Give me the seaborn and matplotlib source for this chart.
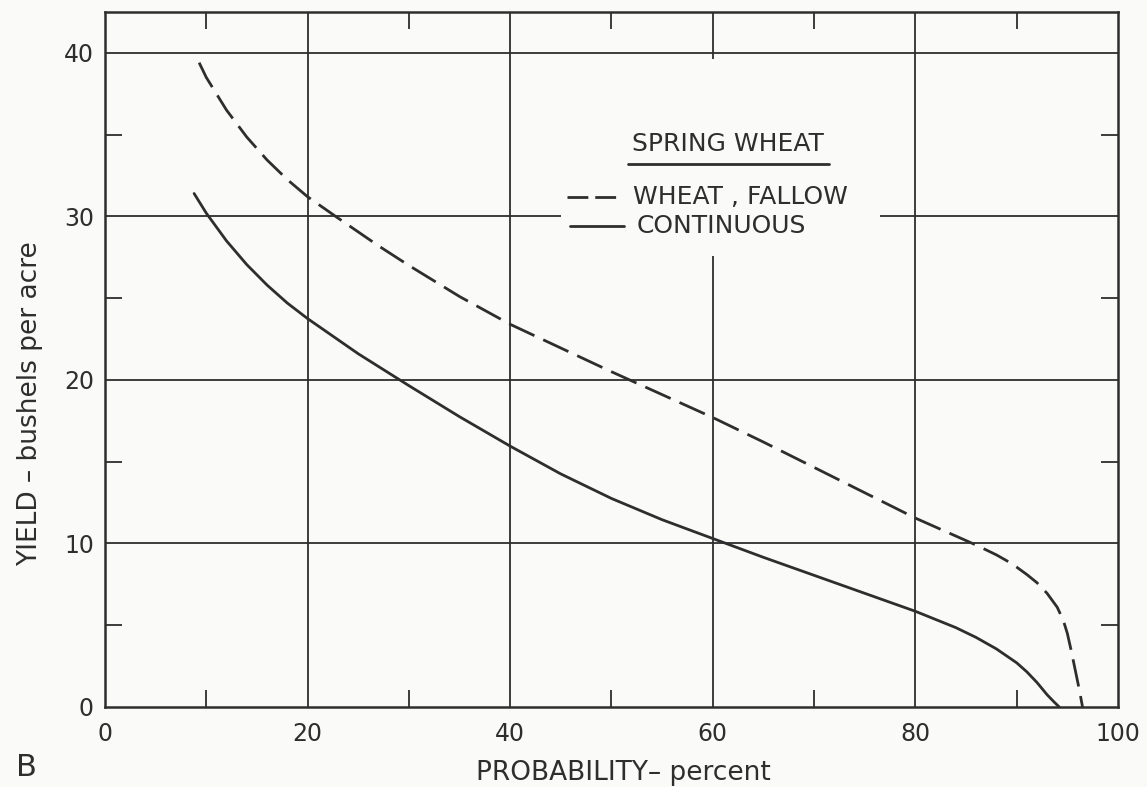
import matplotlib
matplotlib.use("Agg")
import matplotlib.pyplot as plt
import seaborn as sns
import pandas as pd
from matplotlib.patches import Rectangle

# ---- data ----
fallow_x = [9.3, 10, 12, 14, 16, 18, 20, 23, 27, 30, 35, 40, 45, 50, 55, 60, 65,
            70, 75, 80, 84, 86, 88, 89, 90, 91, 92, 93, 94, 94.6, 95, 95.4, 95.8,
            96.2, 96.5]
fallow_y = [39.4, 38.5, 36.5, 34.85, 33.45, 32.25, 31.2, 29.9, 28.2, 27.0, 25.1,
            23.4, 21.95, 20.5, 19.1, 17.7, 16.2, 14.65, 13.1, 11.55, 10.45, 9.9,
            9.3, 8.95, 8.55, 8.1, 7.6, 6.95, 6.1, 5.3, 4.5, 3.4, 2.2, 1.0, 0.0]
cont_x = [8.8, 10, 12, 14, 16, 18, 20, 25, 30, 35, 40, 45, 50, 55, 60, 65, 70, 75,
          80, 84, 86, 88, 90, 91, 92, 93, 93.7, 94.2]
cont_y = [31.4, 30.2, 28.5, 27.05, 25.8, 24.7, 23.75, 21.6, 19.65, 17.75, 15.95,
          14.25, 12.75, 11.45, 10.3, 9.15, 8.05, 6.95, 5.85, 4.85, 4.25, 3.55, 2.7,
          2.15, 1.5, 0.75, 0.3, 0.0]
series_names = ["WHEAT , FALLOW", "CONTINUOUS"]
legend_title = "SPRING WHEAT"
x_ticks = [0, 20, 40, 60, 80, 100]
y_ticks = [0, 10, 20, 30, 40]
x_label = "PROBABILITY\u2013 percent"
y_label = "YIELD \u2013 bushels per acre"

df = pd.concat([
    pd.DataFrame({"x": fallow_x, "y": fallow_y, "s": series_names[0]}),
    pd.DataFrame({"x": cont_x, "y": cont_y, "s": series_names[1]}),
])

sns.set_style("ticks")
plt.rcParams["font.family"] = ["DejaVu Sans"]
ink = "#2e2e2e"
bg = "#fafaf8"

fig = plt.figure(figsize=(11.47, 7.87), dpi=100, facecolor=bg)
ax = fig.add_axes([0.0915, 0.1017, 0.9747 - 0.0915, 0.9848 - 0.1017])
ax.set_facecolor(bg)

ax.set_xlim(0, 100)
ax.set_ylim(0, 42.5)

# grid
for gx in [20, 40, 60, 80]:
    ax.axvline(gx, color=ink, lw=1.3, zorder=1)
for gy in [10, 20, 30, 40]:
    ax.axhline(gy, color=ink, lw=1.3, zorder=1)
# blank area behind the key
ax.add_patch(Rectangle((45, 27.6), 31.5, 12.0, facecolor=bg, edgecolor="none", zorder=2))

sns.lineplot(data=df, x="x", y="y", hue="s", style="s",
             palette={series_names[0]: ink, series_names[1]: ink},
             dashes={series_names[0]: (10, 3.5), series_names[1]: ""},
             lw=2.0, sort=False, estimator=None, legend=False, ax=ax, zorder=3)
for ln in ax.lines[-2:]:
    ln.set_solid_joinstyle("round")
    ln.set_dash_joinstyle("round")

# ticks
ax.set_xticks(x_ticks)
ax.set_yticks(y_ticks)
ax.set_xticklabels([str(v) for v in x_ticks], fontsize=17, color=ink)
ax.set_yticklabels([str(v) for v in y_ticks], fontsize=17, color=ink)
ax.set_xticks([10, 30, 50, 70, 90], minor=True)
ax.set_yticks([5, 15, 25, 35], minor=True)
ax.tick_params(axis="y", which="major", length=0, pad=8)
ax.tick_params(axis="x", which="major", length=0, pad=11)
ax.tick_params(which="minor", direction="in", length=12, width=1.3, color=ink,
               top=True, right=True, bottom=True, left=True)
for sp in ax.spines.values():
    sp.set_color(ink)
    sp.set_linewidth(1.8)

ax.set_xlabel(x_label, fontsize=19, color=ink)
ax.set_ylabel(y_label, fontsize=19, color=ink)
ax.xaxis.set_label_coords(0.512, -0.076)
ax.yaxis.set_label_coords(-0.074, 0.437)
ax.yaxis.label.set_va("center")

# key
ax.text(61.5, 34.4, legend_title, fontsize=18, color=ink, ha="center", va="center", zorder=4)
ax.plot([51.6, 71.5], [33.2, 33.2], color=ink, lw=2.0, zorder=4)
ax.plot([45.6, 51.0], [31.2, 31.2], color=ink, lw=2.0, dashes=(7.5, 2.5), zorder=4)
ax.text(52.1, 31.2, series_names[0], fontsize=18, color=ink, va="center", zorder=4)
ax.plot([45.9, 51.2], [29.4, 29.4], color=ink, lw=2.0, zorder=4)
ax.text(52.5, 29.4, series_names[1], fontsize=18, color=ink, va="center", zorder=4)

fig.text(26 / 1147, 1 - 768 / 787, "B", fontsize=22, color=ink, ha="center",
         va="center")

fig.savefig("out.png", dpi=100, facecolor=bg)
